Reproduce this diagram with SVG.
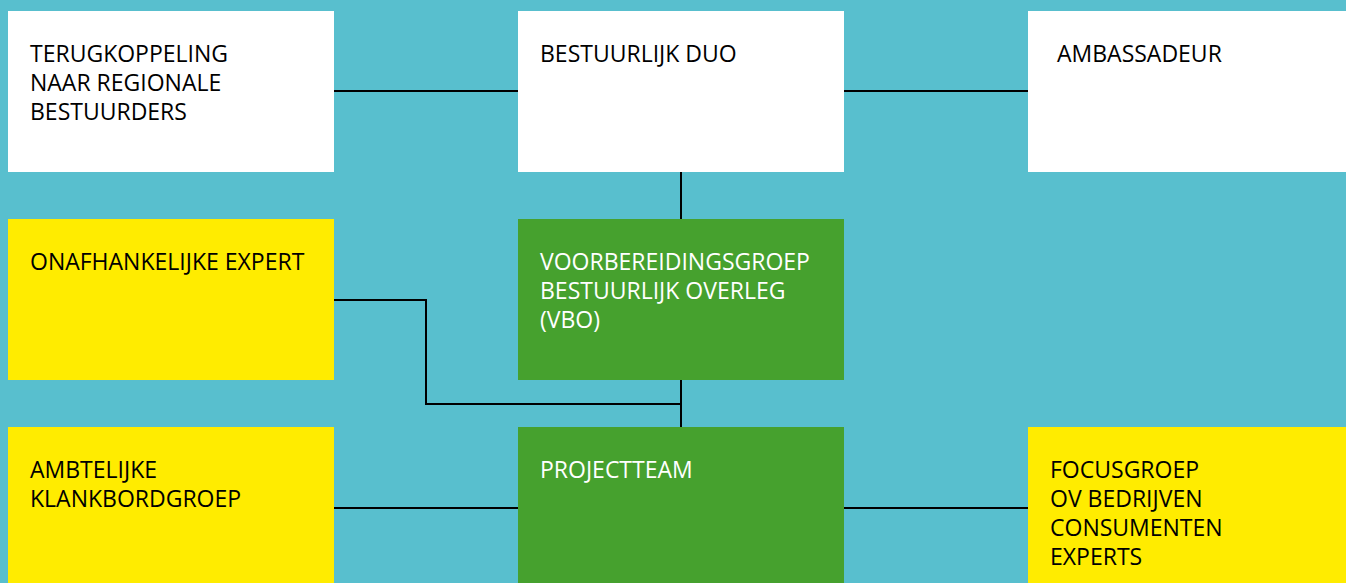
<svg xmlns="http://www.w3.org/2000/svg" width="1346" height="583" viewBox="0 0 1346 583">
<style>
.bg{fill:#58BFCE}
.w{fill:#FFFFFF}
.y{fill:#FFEC00}
.g{fill:#46A12E}
text{font-family:"Open Sans","Noto Sans","Liberation Sans",sans-serif;font-size:23px}
.dk{fill:#000000}
.lt{fill:#FFFFFF}
.c{fill:none;stroke:#000000;stroke-width:2}
</style>
<rect class="bg" x="0" y="0" width="1346" height="583"/>
<g id="connectors">
<line class="c" x1="334" y1="91" x2="518" y2="91"/>
<line class="c" x1="844" y1="91" x2="1028" y2="91"/>
<line class="c" x1="681" y1="172" x2="681" y2="219"/>
<line class="c" x1="681" y1="380" x2="681" y2="427"/>
<polyline class="c" points="334,300 426,300 426,404 681,404"/>
<line class="c" x1="334" y1="508" x2="518" y2="508"/>
<line class="c" x1="844" y1="508" x2="1028" y2="508"/>
</g>
<g id="terugkoppeling">
<rect class="w" x="8" y="11" width="326" height="161"/>
<text class="dk" x="30" y="62">TERUGKOPPELING</text>
<text class="dk" x="30" y="91">NAAR REGIONALE</text>
<text class="dk" x="30" y="120">BESTUURDERS</text>
</g>
<g id="bestuurlijk-duo">
<rect class="w" x="518" y="11" width="326" height="161"/>
<text class="dk" x="540" y="62">BESTUURLIJK DUO</text>
</g>
<g id="ambassadeur">
<rect class="w" x="1028" y="11" width="326" height="161"/>
<text class="dk" x="1057" y="62">AMBASSADEUR</text>
</g>
<g id="onafhankelijke-expert">
<rect class="y" x="8" y="219" width="326" height="161"/>
<text class="dk" x="30" y="270">ONAFHANKELIJKE EXPERT</text>
</g>
<g id="vbo">
<rect class="g" x="518" y="219" width="326" height="161"/>
<text class="lt" x="540" y="270">VOORBEREIDINGSGROEP</text>
<text class="lt" x="540" y="299">BESTUURLIJK OVERLEG</text>
<text class="lt" x="540" y="328">(VBO)</text>
</g>
<g id="ambtelijke-klankbordgroep">
<rect class="y" x="8" y="427" width="326" height="161"/>
<text class="dk" x="30" y="478">AMBTELIJKE</text>
<text class="dk" x="30" y="507">KLANKBORDGROEP</text>
</g>
<g id="projectteam">
<rect class="g" x="518" y="427" width="326" height="161"/>
<text class="lt" x="540" y="478">PROJECTTEAM</text>
</g>
<g id="focusgroep">
<rect class="y" x="1028" y="427" width="326" height="161"/>
<text class="dk" x="1050" y="478">FOCUSGROEP</text>
<text class="dk" x="1050" y="507">OV BEDRIJVEN</text>
<text class="dk" x="1050" y="536">CONSUMENTEN</text>
<text class="dk" x="1050" y="565">EXPERTS</text>
</g>
</svg>
